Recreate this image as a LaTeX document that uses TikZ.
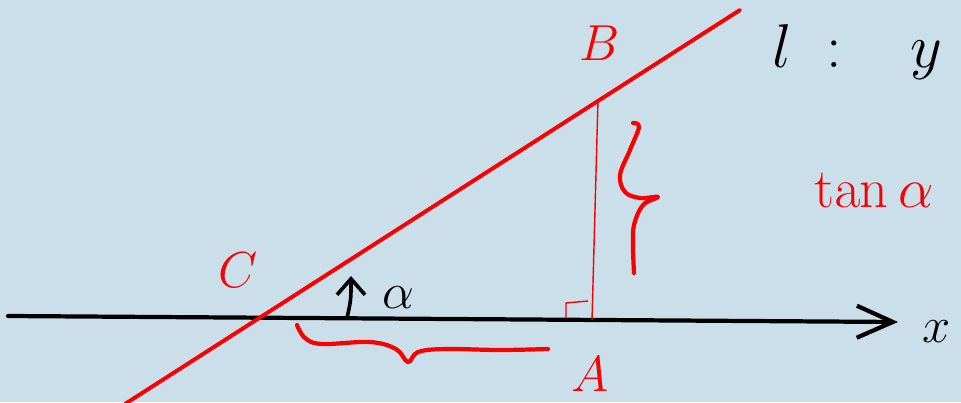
\RequirePackage{fix-cm}
\documentclass[tikz,border=0pt]{standalone}
\usepackage{amsmath,amssymb}
\usepackage{tikz}
\usetikzlibrary{positioning,arrows.meta,calc}
\definecolor{boardbg}{RGB}{203,223,234}
\definecolor{penred}{RGB}{250,0,0}
\tikzset{
  axisline/.style={line width=3pt,black,line cap=round},
  redline/.style={line width=2.8pt,penred,line cap=round},
  thinred/.style={line width=1pt,penred},
  bracepen/.style={line width=3pt,penred,line cap=round,line join=round},
  redlbl/.style={font=\fontsize{36}{40}\selectfont,text=penred,inner sep=0pt},
  blacklbl/.style={font=\fontsize{36}{40}\selectfont,text=black,inner sep=0pt},
}

\begin{document}
\begin{tikzpicture}[x=0.025cm,y=-0.025cm]
  \useasboundingbox (0,0) rectangle (961,402);
  \clip (0,0) rectangle (961,402);
  \fill[boardbg] (0,0) rectangle (961,402);
  % points
  \coordinate (O) at (8,316);
  \coordinate (X) at (898,322);
  \coordinate (P) at (125,404);
  \coordinate (Q) at (740,10);
  \coordinate (B) at (598,100);
  \coordinate (A) at (592,320);
  % x axis and line l
  \draw[axisline,-{Straight Barb[length=9mm,width=8mm,line width=3pt]}] (O)--(X);
  \draw[redline] (P)--(Q);
  \draw[thinred] (B)--(A);
  \draw[thinred] (566,318)--(566,303)--(588,301);
  % angle arrow
  \draw[line width=2.6pt,line cap=round,-{Straight Barb[length=4mm,width=7mm,line width=2.6pt]}]
    (347,318) .. controls (351,300) .. (351,276);
  % braces
  \draw[bracepen] plot[smooth,tension=0.6] coordinates
    {(297,325) (305,338) (322,344) (370,342) (396,349) (408,362) (418,352)
     (445,349) (500,350) (548,349)};
  \draw[bracepen] plot[smooth,tension=0.6] coordinates
    {(633,123) (639,127) (630,150) (620,175) (625,192) (640,198) (658,197)
     (643,205) (634,225) (633,247) (634,273)};
  % labels
  \node[redlbl] (lblB) at (600,43) {$B$};
  \node[redlbl] (lblC) at (238,270) {$C$};
  \node[redlbl] (lblA) at (590,374) {$A$};
  \node[blacklbl] (lblal) at (398,298) {$\alpha$};
  \node[blacklbl] (lblx) at (937,332) {$x$};
  \node[blacklbl,font=\fontsize{44}{48}\selectfont,anchor=west] (lbll) at (772,52) {$l\;:\;\;\;y$};
  \node[redlbl,font=\fontsize{40}{44}\selectfont,anchor=west] (lbltan) at (814,190) {$\tan\alpha$};
\end{tikzpicture}
\end{document}
